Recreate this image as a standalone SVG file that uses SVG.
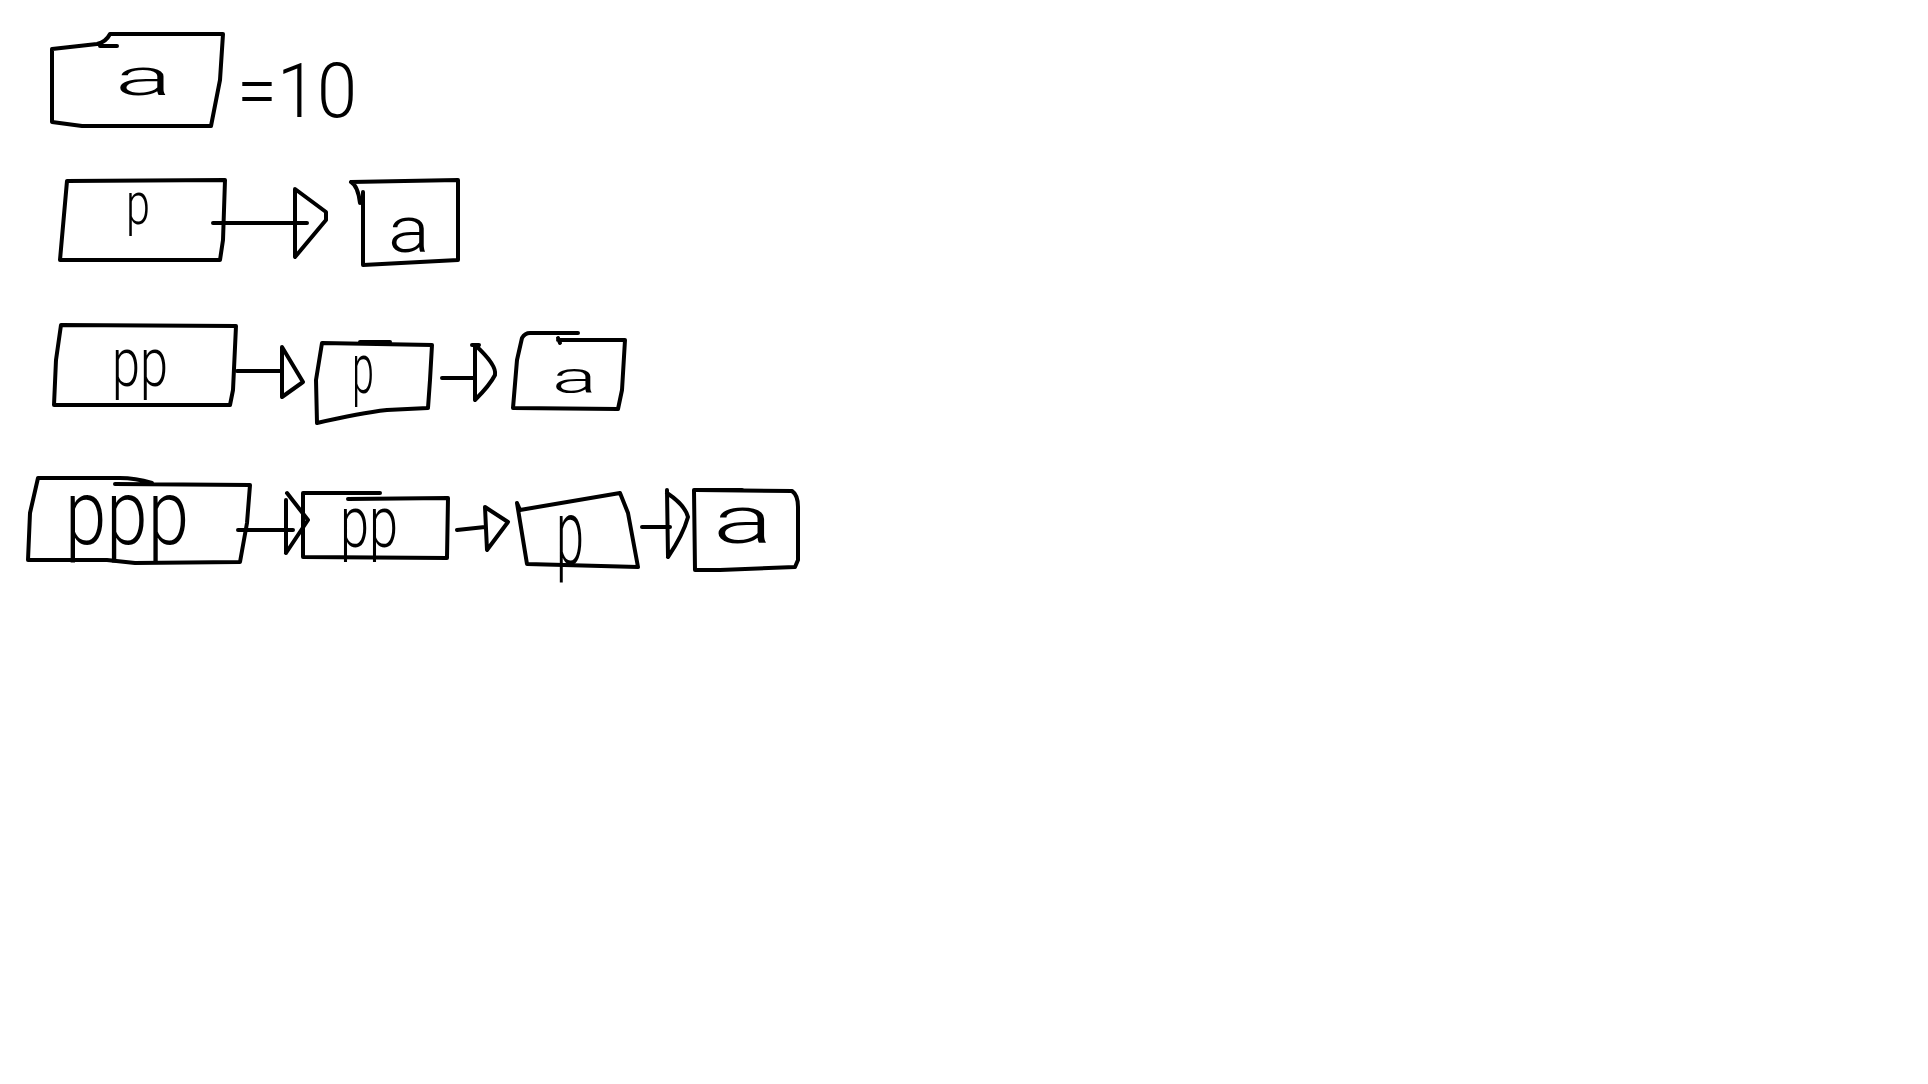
<svg xmlns="http://www.w3.org/2000/svg" width="1928" height="1084" viewBox="0 0 1928 1084">
<style>
.s{fill:none;stroke:#000;stroke-width:4;stroke-linecap:round;stroke-linejoin:round}
.t{font-family:Roboto,"Liberation Sans",Arial,sans-serif;font-weight:300;fill:#000;text-anchor:start}
</style>
<rect width="1928" height="1084" fill="#fff"/>
<g id="node-a-value">
<path class="s" d="M52,49 L97,44 Q106,42 110,34 L223,34 L220,80 L211,126 L82,126 L52,122 Z M100,46 L117,46"/>
<text class="t" x="115" y="95" font-size="52" textLength="57" lengthAdjust="spacingAndGlyphs">a</text>
</g>
<g id="label-eq10">
<text class="t" x="237" y="117" font-size="76" textLength="120" lengthAdjust="spacingAndGlyphs">=10</text>
</g>
<g id="node-p-row2">
<path class="s" d="M67,181 L225,180 L223,240 L220,260 L60,260 Z"/>
<text class="t" x="126" y="224" font-size="60" textLength="24" lengthAdjust="spacingAndGlyphs">p</text>
</g>
<g id="node-a-row2">
<path class="s" d="M351,182 L458,180 L458,260 L363,265 L363,192 M351,182 Q358,186 360,203"/>
<text class="t" x="388" y="252" font-size="64" textLength="42" lengthAdjust="spacingAndGlyphs">a</text>
</g>
<g id="node-pp-row3">
<path class="s" d="M61,325 L236,326 L233,390 L230,405 L54,405 L56,360 Z"/>
<text class="t" x="112" y="386" font-size="68" textLength="56" lengthAdjust="spacingAndGlyphs">pp</text>
</g>
<g id="node-p-row3">
<path class="s" d="M322,343 L432,345 L430,380 L428,408 L387,410 Q360,413 317,423 L316,380 Z"/>
<path class="s" stroke-width="6" d="M360,342 L390,342"/>
<text class="t" x="352" y="393" font-size="70" textLength="22" lengthAdjust="spacingAndGlyphs">p</text>
</g>
<g id="node-a-row3">
<path class="s" d="M530,333 L578,333 M558,340 L625,340 L622,390 L618,409 L513,408 L517,360 L522,338 Q525,333 530,333 M558,338 L560,343"/>
<text class="t" x="552" y="393" font-size="44" textLength="45" lengthAdjust="spacingAndGlyphs">a</text>
</g>
<g id="node-ppp-row4">
<path class="s" d="M38,478 L120,478 Q135,478 152,483 M115,484 L250,485 L247,523 L240,562 L135,563 L107,560 L28,560 L30,513 L38,478"/>
<text class="t" x="65" y="544" font-size="90" textLength="124" lengthAdjust="spacingAndGlyphs">ppp</text>
</g>
<g id="node-pp-row4">
<path class="s" d="M303,493 L380,493 M348,499 L448,498 L447,558 L303,557 L303,493"/>
<text class="t" x="340" y="547" font-size="72" textLength="58" lengthAdjust="spacingAndGlyphs">pp</text>
</g>
<g id="node-p-row4">
<path class="s" d="M517,503 L520,510 L620,493 L628,513 L638,567 L527,564 Z"/>
<text class="t" x="556" y="564" font-size="90" textLength="28" lengthAdjust="spacingAndGlyphs">p</text>
</g>
<g id="node-a-row4">
<path class="s" d="M697,490 L792,491 Q798,495 798,507 L798,560 L795,567 L720,570 L695,570 L694,490 Z"/>
<path class="s" stroke-width="6" d="M697,490 L742,490"/>
<text class="t" x="713" y="543" font-size="66" textLength="60" lengthAdjust="spacingAndGlyphs">a</text>
</g>
<g id="connectors">
<path class="s" d="M213,223 L307,223 M295,189 L326,212 L326,220 L295,257 Z"/>
<path class="s" d="M237,371 L282,371 M282,347 L303,382 L282,397 Z"/>
<path class="s" d="M442,378 L475,378 M475,345 Q497,365 495,375 Q490,385 475,400 Z M472,345 L479,345"/>
<path class="s" d="M238,530 L293,530 M286,500 L286,553 M287,493 L308,520 L286,553"/>
<path class="s" d="M457,530 L485,527 M485,507 L508,522 L487,550 Z"/>
<path class="s" d="M642,527 L670,527 M667,490 L668,557 M667,493 Q685,505 688,517 Q683,535 668,557"/>
</g>
</svg>
